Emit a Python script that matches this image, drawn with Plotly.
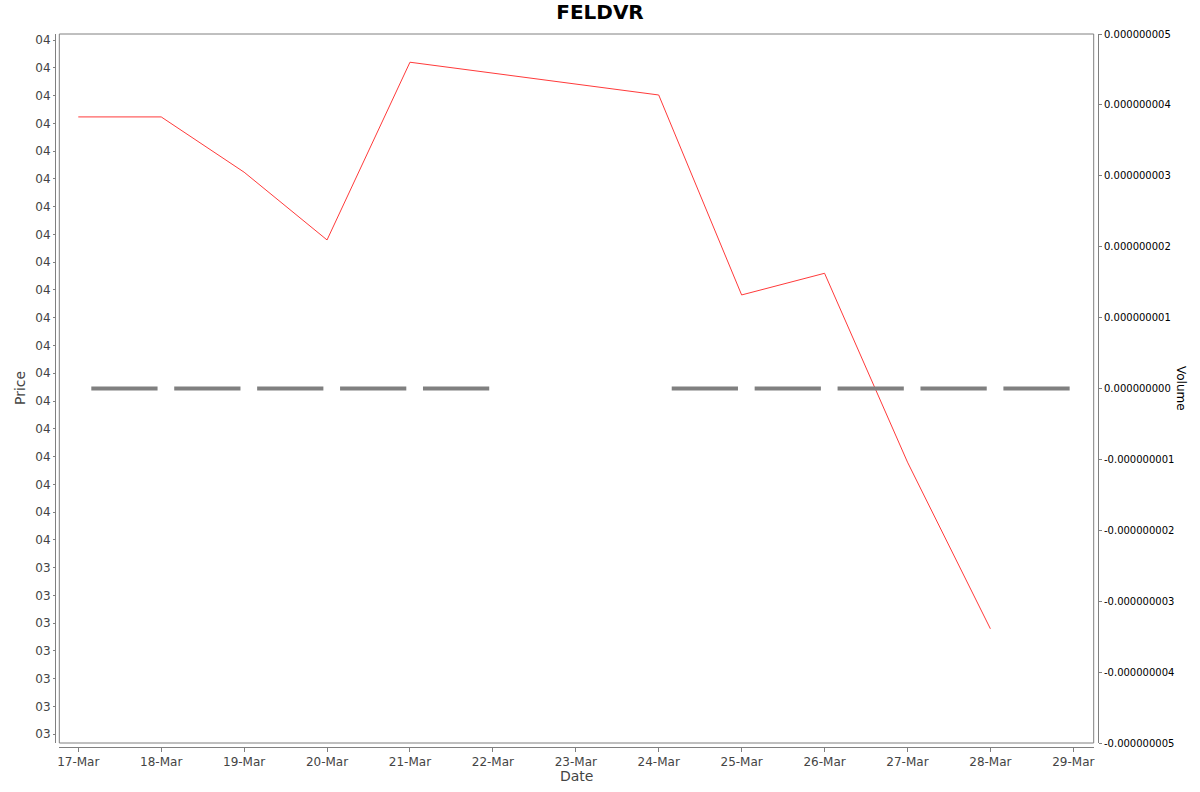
import plotly.graph_objects as go
from datetime import datetime, timedelta

# ---- data ----
dates = ["2025-03-17", "2025-03-18", "2025-03-19", "2025-03-20", "2025-03-21",
         "2025-03-24", "2025-03-25", "2025-03-26", "2025-03-27", "2025-03-28"]
price = [4.7615, 4.7615, 4.662, 4.540, 4.860, 4.801, 4.441, 4.480, 4.140, 3.840]
volume = [0, 0, 0, 0, 0, 0, 0, 0, 0, 0]

price_ticks = [round(3.65 + 0.05 * k, 2) for k in range(26)]
price_tick_labels = ["03"] * 7 + ["04"] * 19
volume_ticks = [-5e-9, -4e-9, -3e-9, -2e-9, -1e-9, 0, 1e-9, 2e-9, 3e-9, 4e-9, 5e-9]
volume_tick_labels = ["-0.000000005", "-0.000000004", "-0.000000003", "-0.000000002",
                      "-0.000000001", "0.000000000", "0.000000001", "0.000000002",
                      "0.000000003", "0.000000004", "0.000000005"]
date_ticks = ["2025-03-%02d" % d for d in range(17, 30)]
date_tick_labels = ["%d-Mar" % d for d in range(17, 30)]

# volume bars: each day's bar drawn as a thick segment over its period
bar_x, bar_y = [], []
for d, v in zip(dates, volume):
    t = datetime.strptime(d, "%Y-%m-%d")
    bar_x += [t + timedelta(days=0.157), t + timedelta(days=0.956), None]
    bar_y += [v, v, None]

fig = go.Figure()
fig.add_trace(go.Scatter(x=bar_x, y=bar_y, mode="lines", yaxis="y2",
                         line=dict(color="#808080", width=4), showlegend=False,
                         hoverinfo="skip"))
fig.add_trace(go.Scatter(x=dates, y=price, mode="lines",
                         line=dict(color="#ff3a3a", width=1), showlegend=False))

W, H = 1200, 792
ml, mr, mt, mb = 55, 102, 34, 45
pw, ph = W - ml - mr, H - mt - mb
xd0 = (59.3 - ml) / pw
xd1 = (1093.7 - ml) / pw
yd0 = (747 - 743) / ph

x0 = datetime(2025, 3, 17) - timedelta(days=0.229)
x1 = datetime(2025, 3, 29) + timedelta(days=0.246)

axis_col = "#808080"
tick_font = dict(family="DejaVu Sans", size=12, color="#444444")

fig.update_layout(
    width=W, height=H,
    margin=dict(l=ml, r=mr, t=mt, b=mb),
    paper_bgcolor="white", plot_bgcolor="white",
    title=dict(text="<b>FELDVR</b>", x=0.5, xanchor="center", y=1 - 12 / H,
               yanchor="middle", font=dict(family="DejaVu Sans", size=20, color="black")),
    xaxis=dict(type="date", range=[x0, x1], domain=[xd0, xd1], anchor="free", position=0,
               showgrid=False, zeroline=False, showline=True, linecolor=axis_col, linewidth=1,
               ticks="outside", ticklen=4, tickcolor=axis_col,
               tickvals=date_ticks, ticktext=date_tick_labels, tickfont=tick_font),
    yaxis=dict(range=[3.6343, 4.9108], domain=[yd0, 1], anchor="free", position=0,
               showgrid=False, zeroline=False, showline=True, linecolor=axis_col, linewidth=1,
               ticks="outside", ticklen=2, tickcolor=axis_col,
               tickvals=price_ticks, ticktext=price_tick_labels, tickfont=tick_font),
    yaxis2=dict(range=[-5e-9, 5e-9], domain=[yd0, 1], anchor="free", position=1,
                overlaying="y", side="right",
                showgrid=False, zeroline=False, showline=True, linecolor=axis_col, linewidth=1,
                ticks="outside", ticklen=3, tickcolor=axis_col,
                tickvals=volume_ticks, ticktext=volume_tick_labels,
                tickfont=dict(family="DejaVu Sans", size=10, color="black")),
    shapes=[dict(type="rect", xref="x domain", yref="y domain", x0=0, x1=1, y0=0, y1=1,
                 line=dict(color=axis_col, width=1), fillcolor="rgba(0,0,0,0)", layer="above")],
    annotations=[
        dict(text="Price", xref="paper", yref="paper", x=(20 - ml) / pw, y=(H - mb - 388) / ph,
             showarrow=False, textangle=-90, xanchor="center", yanchor="middle",
             font=dict(family="DejaVu Sans", size=14, color="#444444")),
        dict(text="Date", xref="paper", yref="paper", x=(576 - ml) / pw, y=(H - mb - 776) / ph,
             showarrow=False, xanchor="center", yanchor="middle",
             font=dict(family="DejaVu Sans", size=14, color="#444444")),
        dict(text="Volume", xref="paper", yref="paper", x=(1181 - ml) / pw, y=(H - mb - 388) / ph,
             showarrow=False, textangle=90, xanchor="center", yanchor="middle",
             font=dict(family="DejaVu Sans", size=12, color="black")),
    ],
)

fig.write_html("out.html", config={"displayModeBar": False},
               post_script="document.body.style.margin='0';document.body.style.overflow='hidden';")
